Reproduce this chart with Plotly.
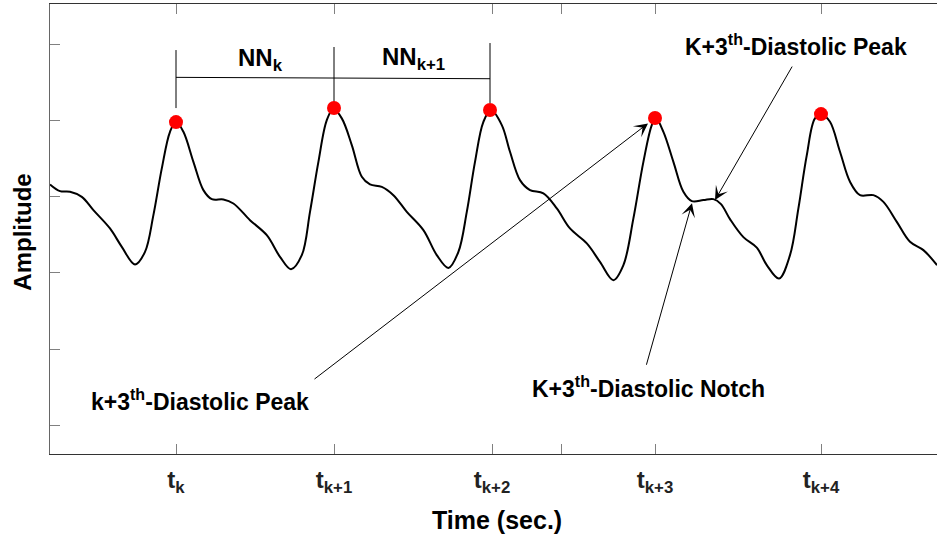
import plotly.graph_objects as go

# ---- data (time in s, amplitude in arbitrary units) ----
time_s = [0.000, 0.050, 0.100, 0.159, 0.217, 0.300, 0.359, 0.425, 0.475, 0.517,
          0.559, 0.600, 0.630, 0.667, 0.717, 0.767, 0.809, 0.867, 0.917, 1.000,
          1.084, 1.150, 1.205, 1.259, 1.300, 1.342, 1.384, 1.417, 1.459, 1.509,
          1.559, 1.600, 1.659, 1.717, 1.784, 1.867, 1.934, 1.992, 2.042, 2.084,
          2.125, 2.167, 2.205, 2.259, 2.300, 2.350, 2.400, 2.467, 2.534, 2.600,
          2.684, 2.750, 2.817, 2.867, 2.917, 2.967, 3.009, 3.029, 3.067, 3.117,
          3.167, 3.209, 3.267, 3.317, 3.355, 3.400, 3.467, 3.534, 3.584, 3.645,
          3.700, 3.742, 3.784, 3.825, 3.859, 3.900, 3.950, 4.000, 4.050, 4.117,
          4.167, 4.234, 4.300, 4.367, 4.435]
amplitude = [3.159, 3.071, 3.062, 2.996, 2.822, 2.581, 2.340, 2.109, 2.274, 2.756,
             3.369, 3.849, 3.980, 3.849, 3.455, 3.084, 2.966, 2.962, 2.909, 2.690,
             2.493, 2.209, 2.047, 2.231, 2.799, 3.455, 4.003, 4.147, 4.025, 3.675,
             3.259, 3.159, 3.127, 3.018, 2.799, 2.559, 2.231, 2.064, 2.274, 2.799,
             3.455, 3.980, 4.134, 3.937, 3.587, 3.215, 3.084, 3.041, 2.844, 2.581,
             2.385, 2.143, 1.903, 2.100, 2.713, 3.455, 3.937, 4.025, 3.849, 3.455,
             3.062, 2.940, 2.953, 2.966, 2.900, 2.703, 2.467, 2.329, 2.100, 1.925,
             2.231, 2.844, 3.543, 4.025, 4.077, 3.980, 3.587, 3.193, 3.018, 3.018,
             2.930, 2.668, 2.406, 2.297, 2.100]

peak_t = [0.630, 1.420, 2.200, 3.025, 3.855]
peak_amp = [3.976, 4.160, 4.134, 4.029, 4.081]

tick_t = [0.630, 1.420, 2.210, 2.555, 3.025, 3.855]
tick_labels = ["t<sub>k</sub>", "t<sub>k+1</sub>", "t<sub>k+2</sub>", "",
               "t<sub>k+3</sub>", "t<sub>k+4</sub>"]
amp_ticks = [0, 1, 2, 3, 4, 5]

# NN interval bracket
nn_t = [0.630, 1.420, 2.200]
nn_top = [4.921, 4.961, 5.013]
nn_bottom = [4.160, 4.147, 4.226]
nn_level = [4.563, 4.550, 4.545]
nn_labels = ["NN<sub>k</sub>", "NN<sub>k+1</sub>"]
nn_label_t = [1.050, 1.815]
nn_label_amp = [4.80, 4.81]

# annotation arrows: (head_t, head_amp, tail_t, tail_amp)
arrow_head_t = [2.990, 3.325, 3.210]
arrow_head_amp = [3.959, 2.953, 2.913]
arrow_tail_t = [1.315, 3.715, 2.980]
arrow_tail_amp = [0.591, 4.724, 0.774]

label_texts = ["k+3<sup>th</sup>-Diastolic Peak",
               "K+3<sup>th</sup>-Diastolic Peak",
               "K+3<sup>th</sup>-Diastolic Notch"]
label_t = [0.195, 3.165, 2.400]
label_amp = [0.33, 4.99, 0.50]

FONT = "Liberation Sans"

fig = go.Figure()

fig.add_trace(go.Scatter(x=time_s, y=amplitude, mode="lines",
                         line=dict(color="black", width=2, shape="spline", smoothing=1.0),
                         hoverinfo="skip"))

# bracket lines
for t, top, bot in zip(nn_t, nn_top, nn_bottom):
    fig.add_trace(go.Scatter(x=[t, t], y=[bot, top], mode="lines",
                             line=dict(color="black", width=1), hoverinfo="skip"))
fig.add_trace(go.Scatter(x=nn_t, y=nn_level, mode="lines",
                         line=dict(color="black", width=1), hoverinfo="skip"))

fig.add_trace(go.Scatter(x=peak_t, y=peak_amp, mode="markers",
                         marker=dict(color="red", size=14, line=dict(width=0)),
                         hoverinfo="skip"))

annotations = []
for txt, t, a in zip(nn_labels, nn_label_t, nn_label_amp):
    annotations.append(dict(x=t, y=a, xref="x", yref="y", text=txt, showarrow=False,
                            xanchor="center", yanchor="middle",
                            font=dict(family=FONT, size=24, color="black", weight="bold")))

for hx, hy, tx, ty in zip(arrow_head_t, arrow_head_amp, arrow_tail_t, arrow_tail_amp):
    annotations.append(dict(x=hx, y=hy, xref="x", yref="y", ax=tx, ay=ty,
                            axref="x", ayref="y", text="", showarrow=True,
                            arrowhead=3, arrowsize=2.3, arrowwidth=1, arrowcolor="black"))

for txt, t, a in zip(label_texts, label_t, label_amp):
    annotations.append(dict(x=t, y=a, xref="x", yref="y", text=txt, showarrow=False,
                            xanchor="left", yanchor="middle",
                            font=dict(family=FONT, size=23, color="black", weight="bold")))

# axis titles
annotations.append(dict(x=0.5045, y=-0.146, xref="paper", yref="paper",
                        text="Time (sec.)", showarrow=False, xanchor="center", yanchor="middle",
                        font=dict(family=FONT, size=25, color="black", weight="bold")))
annotations.append(dict(x=-0.0304, y=0.492, xref="paper", yref="paper",
                        text="Amplitude", showarrow=False, textangle=-90,
                        xanchor="center", yanchor="middle",
                        font=dict(family=FONT, size=24, color="black", weight="bold")))

fig.update_layout(
    width=937, height=539,
    margin=dict(l=50, r=0, t=4, b=85),
    paper_bgcolor="white", plot_bgcolor="white",
    showlegend=False,
    font=dict(family=FONT, size=23, color="#222222", weight="bold"),
    annotations=annotations,
    xaxis=dict(range=[0, 4.435], tickmode="array", tickvals=tick_t, ticktext=tick_labels,
               ticks="inside", ticklen=10, tickcolor="#808080", tickwidth=1,
               showline=True, linecolor="#333333", linewidth=1, mirror="ticks",
               showgrid=False, zeroline=False, ticklabelstandoff=4,
               tickfont=dict(family=FONT, size=24, color="#222222", weight="bold")),
    yaxis=dict(range=[-0.377, 5.525], tickmode="array", tickvals=amp_ticks,
               showticklabels=False, ticks="inside", ticklen=10, tickcolor="#808080",
               tickwidth=1, showline=True, linecolor="#666666", linewidth=1,
               showgrid=False, zeroline=False),
)

fig.write_html("out.html")
